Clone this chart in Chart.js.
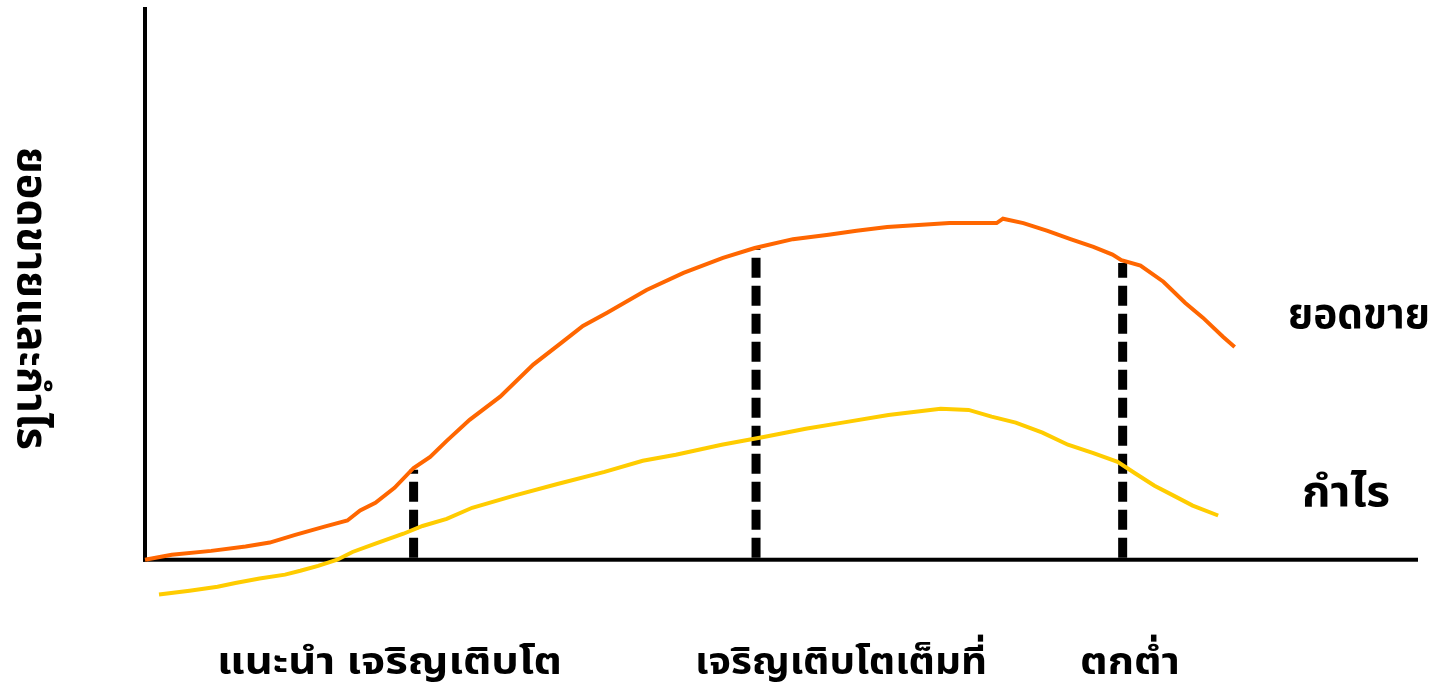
<!DOCTYPE html>
<html>
<head>
<meta charset="utf-8">
<script src="https://cdn.jsdelivr.net/npm/chart.js@4/dist/chart.umd.min.js"></script>
<style>
  html, body { margin: 0; padding: 0; background: #ffffff; }
  #wrap { width: 1437px; height: 690px; position: relative; }
</style>
</head>
<body>
<div id="wrap"><canvas id="c" width="1437" height="690"></canvas></div>
<script>
// ---- data (time axis 0..100, value axis 0..100) ----
const salesX = [0, 2.1, 5.2, 7.9, 9.8, 11.8, 14.1, 15.9, 16.9, 18.1, 19.6, 21.1, 22.4, 23.7, 25.5, 27.9, 30.5, 32.8, 34.4, 36.3, 39.4, 42.3, 45.4, 47.9, 50.9, 53.7, 55.9, 58.3, 63.2, 66.9, 67.4, 69.0, 70.9, 72.7, 74.5, 76.0, 76.7, 78.2, 80.0, 81.7, 83.1, 84.7, 85.6];
const salesY = [0, 0.9, 1.6, 2.4, 3.1, 4.5, 6.0, 7.1, 8.9, 10.3, 13.0, 16.6, 18.6, 21.5, 25.3, 29.5, 35.3, 39.4, 42.3, 44.7, 48.8, 51.9, 54.6, 56.4, 58.0, 58.8, 59.5, 60.2, 60.9, 60.9, 61.7, 60.9, 59.5, 58.0, 56.6, 55.2, 54.2, 53.2, 50.3, 46.5, 43.8, 40.3, 38.5];

const profitX = [1.1, 3.5, 5.7, 7.1, 9.0, 11.0, 12.2, 13.6, 15.1, 16.3, 18.1, 20.3, 21.8, 23.7, 25.7, 29.0, 32.4, 36.1, 39.1, 41.7, 45.3, 48.6, 51.9, 54.8, 58.4, 62.5, 64.7, 66.5, 68.4, 70.5, 72.5, 74.5, 76.4, 77.8, 79.3, 80.8, 82.3, 84.3];
const profitY = [-6.3, -5.6, -4.9, -4.2, -3.4, -2.7, -2.0, -1.1, 0, 1.4, 2.9, 4.7, 6.1, 7.4, 9.4, 11.6, 13.7, 15.9, 17.9, 19.0, 20.8, 22.2, 23.7, 24.8, 26.2, 27.3, 27.1, 25.9, 24.8, 23.0, 20.8, 19.3, 17.7, 15.6, 13.4, 11.6, 9.8, 8.0];

const stageX = [21.1, 48.0, 76.8];        // stage boundaries on time axis
const stageTop = [16.3, 56.2, 53.7];      // height of each boundary line (sales level)

const stageLabels = ['แนะนำ เจริญเติบโต', 'เจริญเติบโตเต็มที่', 'ตกต่ำ'];
const seriesLabels = ['ยอดขาย', 'กำไร'];
const yTitle = 'ยอดขายและกำไร';

// ---- build datasets ----
const toPts = (xs, ys) => xs.map((x, i) => ({ x: x, y: ys[i] }));

const datasets = [
  {
    label: seriesLabels[0],
    data: toPts(salesX, salesY),
    borderColor: '#FF6600',
    borderWidth: 4,
    pointRadius: 0,
    showLine: true,
    tension: 0,
    order: 1,
    clip: false
  },
  {
    label: seriesLabels[1],
    data: toPts(profitX, profitY),
    borderColor: '#FFCC00',
    borderWidth: 4,
    pointRadius: 0,
    showLine: true,
    tension: 0,
    order: 2,
    clip: false
  }
];
stageX.forEach((sx, i) => {
  datasets.push({
    label: 'stage' + i,
    data: [{ x: sx, y: 0 }, { x: sx, y: stageTop[i] }],
    borderColor: '#000000',
    borderWidth: 9,
    borderDash: [20, 8],
    borderDashOffset: -2,
    borderCapStyle: 'butt',
    pointRadius: 0,
    showLine: true,
    order: 5,
    clip: false
  });
});

const FONT = '"Noto Sans Thai", "Noto Sans", "DejaVu Sans", sans-serif';

function drawFit(ctx, text, x, y, targetW, size, rot) {
  ctx.save();
  ctx.font = 'bold ' + size + 'px ' + FONT;
  const w = ctx.measureText(text).width;
  ctx.translate(x, y);
  if (rot) ctx.rotate(rot);
  ctx.scale(targetW / w, 1);
  ctx.fillStyle = '#000000';
  ctx.textAlign = 'left';
  ctx.textBaseline = 'alphabetic';
  ctx.fillText(text, 0, 0);
  ctx.restore();
}

const axesPlugin = {
  id: 'axesLines',
  beforeDatasetsDraw(chart) {
    const { ctx, scales } = chart;
    const xs = scales.x, ys = scales.y;
    const x0 = xs.getPixelForValue(0);
    const y0 = ys.getPixelForValue(0);
    ctx.save();
    ctx.fillStyle = '#000000';
    // y axis line
    const yTop = ys.getPixelForValue(100);
    ctx.fillRect(x0 - 2, yTop, 4, y0 + 2 - yTop);
    // x axis line
    const xEnd = xs.getPixelForValue(100);
    ctx.fillRect(x0 - 2, y0 - 2, xEnd - x0 + 2, 4);
    ctx.restore();
  },
  afterDraw(chart) {
    const { ctx } = chart;
    // stage labels under axis
    drawFit(ctx, stageLabels[0], 217, 674, 345, 38);
    drawFit(ctx, stageLabels[1], 695, 674, 292, 38);
    drawFit(ctx, stageLabels[2], 1080, 674, 100, 38);
    // series labels on the right
    drawFit(ctx, seriesLabels[0], 1288, 328, 142, 42);
    drawFit(ctx, seriesLabels[1], 1302, 506, 88, 42);
    // rotated axis title (reads top to bottom)
    drawFit(ctx, yTitle, 18, 147, 303, 42, Math.PI / 2);
  }
};

new Chart(document.getElementById('c'), {
  type: 'scatter',
  data: { datasets: datasets },
  options: {
    responsive: false,
    animation: false,
    events: [],
    layout: { padding: { left: 145, right: 19, top: 7, bottom: 75 } },
    plugins: { legend: { display: false }, tooltip: { enabled: false } },
    scales: {
      x: { type: 'linear', min: 0, max: 100, display: false },
      y: { type: 'linear', min: -10, max: 100, display: false }
    }
  },
  plugins: [axesPlugin]
});
</script>
</body>
</html>
